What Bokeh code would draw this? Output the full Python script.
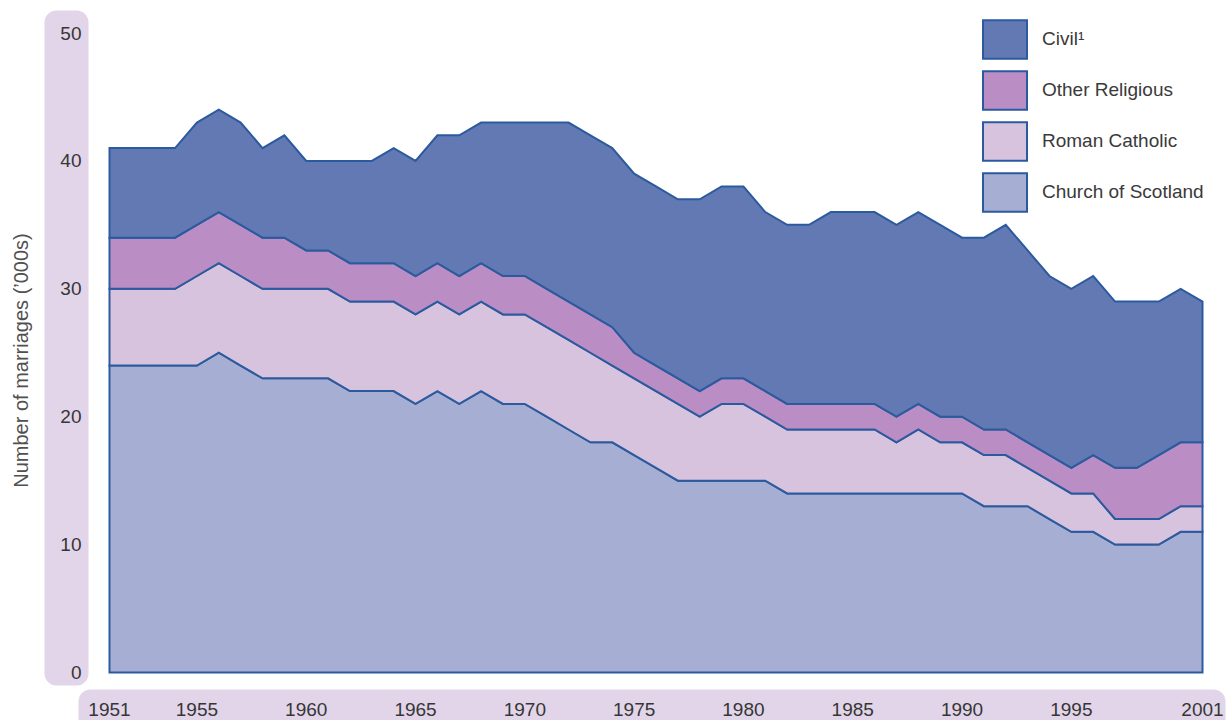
import numpy as np
from bokeh.plotting import figure
from bokeh.models import (Legend, LegendItem, BoxAnnotation, FixedTicker, Range1d)
from bokeh.embed import file_html
from bokeh.resources import INLINE

# ---- data (thousands of marriages, Scotland) ----
years = list(range(1951, 2002))
church_of_scotland = [24, 24, 24, 24, 24, 25, 24, 23, 23, 23, 23, 22, 22, 22, 21, 22, 21, 22, 21, 21,
                      20, 19, 18, 18, 17, 16, 15, 15, 15, 15, 15, 14, 14, 14, 14, 14, 14, 14, 14, 14,
                      13, 13, 13, 12, 11, 11, 10, 10, 10, 11, 11]
roman_catholic = [6, 6, 6, 6, 7, 7, 7, 7, 7, 7, 7, 7, 7, 7, 7, 7, 7, 7, 7, 7,
                  7, 7, 7, 6, 6, 6, 6, 5, 6, 6, 5, 5, 5, 5, 5, 5, 4, 5, 4, 4,
                  4, 4, 3, 3, 3, 3, 2, 2, 2, 2, 2]
other_religious = [4, 4, 4, 4, 4, 4, 4, 4, 4, 3, 3, 3, 3, 3, 3, 3, 3, 3, 3, 3,
                   3, 3, 3, 3, 2, 2, 2, 2, 2, 2, 2, 2, 2, 2, 2, 2, 2, 2, 2, 2,
                   2, 2, 2, 2, 2, 3, 4, 4, 5, 5, 5]
civil = [7, 7, 7, 7, 8, 8, 8, 7, 8, 7, 7, 8, 8, 9, 9, 10, 11, 11, 12, 12,
         13, 14, 14, 14, 14, 14, 14, 15, 15, 15, 14, 14, 14, 15, 15, 15, 15, 15, 15, 14,
         15, 16, 15, 14, 14, 14, 13, 13, 12, 12, 11]

series_names = ["Church of Scotland", "Roman Catholic", "Other Religious", "Civil\u00b9"]
series_colors = ["#A6AFD3", "#D8C3DF", "#BA8EC4", "#6279B3"]
x_ticks = [1951, 1955, 1960, 1965, 1970, 1975, 1980, 1985, 1990, 1995, 2001]
y_ticks = [0, 10, 20, 30, 40, 50]

OUTLINE = "#2C5A9E"
BAND = "#E2D5E9"
FONT = "Liberation Sans"

# ---- layout (pixels) ----
W, H = 1227, 720
X0_PX, X1_PX = 109, 1202      # 1951 and 2001
Y0_PX, Y50_PX = 672, 32.5     # value 0 and value 50
ppx = (X1_PX - X0_PX) / (years[-1] - years[0])
ppy = (Y0_PX - Y50_PX) / 50.0
x_start = years[0] - X0_PX / ppx
y_start = -(H - Y0_PX) / ppy

p = figure(width=W, height=H, output_backend="svg", toolbar_location=None,
           x_range=Range1d(x_start, x_start + W / ppx),
           y_range=Range1d(y_start, y_start + H / ppy),
           min_border=0)
p.title.visible = False
p.background_fill_color = "white"
p.border_fill_color = "white"
p.outline_line_color = None
p.grid.visible = False

# light lavender bands behind tick labels
p.add_layout(BoxAnnotation(left=44, right=88, top=10, bottom=685,
                           left_units="canvas", right_units="canvas",
                           top_units="canvas", bottom_units="canvas",
                           fill_color=BAND, fill_alpha=1, line_color=None,
                           border_radius=12, level="underlay"))
p.add_layout(BoxAnnotation(left=78, right=1225, top=689, bottom=760,
                           left_units="canvas", right_units="canvas",
                           top_units="canvas", bottom_units="canvas",
                           fill_color=BAND, fill_alpha=1, line_color=None,
                           border_radius=(12, 12, 0, 0), level="underlay"))

# stacked areas
layers = [church_of_scotland, roman_catholic, other_religious, civil]
lower = np.zeros(len(years))
renderers = []
for vals, name, col in zip(layers, series_names, series_colors):
    upper = lower + np.array(vals, dtype=float)
    xs = list(years) + list(years[::-1])
    ys = list(upper) + list(lower[::-1])
    r = p.patch(xs, ys, fill_color=col, fill_alpha=1, line_color=OUTLINE,
                line_width=2, line_join="miter")
    renderers.append((name, r))
    lower = upper

items = [LegendItem(label=n, renderers=[r]) for n, r in reversed(renderers)]
legend = Legend(items=items, location=(977, H - 216), glyph_width=55, glyph_height=48,
                spacing=3, label_standoff=10, padding=0, margin=0,
                border_line_color=None, background_fill_alpha=0,
                label_text_font=FONT, label_text_font_size="19px",
                label_text_color="#3a3a3a")
p.add_layout(legend)

# axes, pinned to the data origin so they take no border space
p.xaxis.ticker = FixedTicker(ticks=x_ticks)
p.yaxis.ticker = FixedTicker(ticks=y_ticks)
p.xaxis.fixed_location = 0
p.yaxis.fixed_location = years[0]
for ax in (p.xaxis[0], p.yaxis[0]):
    ax.axis_line_color = None
    ax.major_tick_line_color = None
    ax.minor_tick_line_color = None
    ax.major_tick_out = 0
    ax.major_tick_in = 0
    ax.minor_tick_out = 0
    ax.major_label_text_font = FONT
    ax.major_label_text_font_size = "19px"
    ax.major_label_text_color = "#363636"
p.yaxis.major_label_standoff = 28
p.xaxis.major_label_standoff = 30
p.yaxis.axis_label = "Number of marriages (\u2019000s)"
p.yaxis.axis_label_text_font = FONT
p.yaxis.axis_label_text_font_size = "20px"
p.yaxis.axis_label_text_font_style = "normal"
p.yaxis.axis_label_text_color = "#505050"
p.yaxis.axis_label_standoff = 25

open("out.html", "w").write(file_html(p, INLINE))
